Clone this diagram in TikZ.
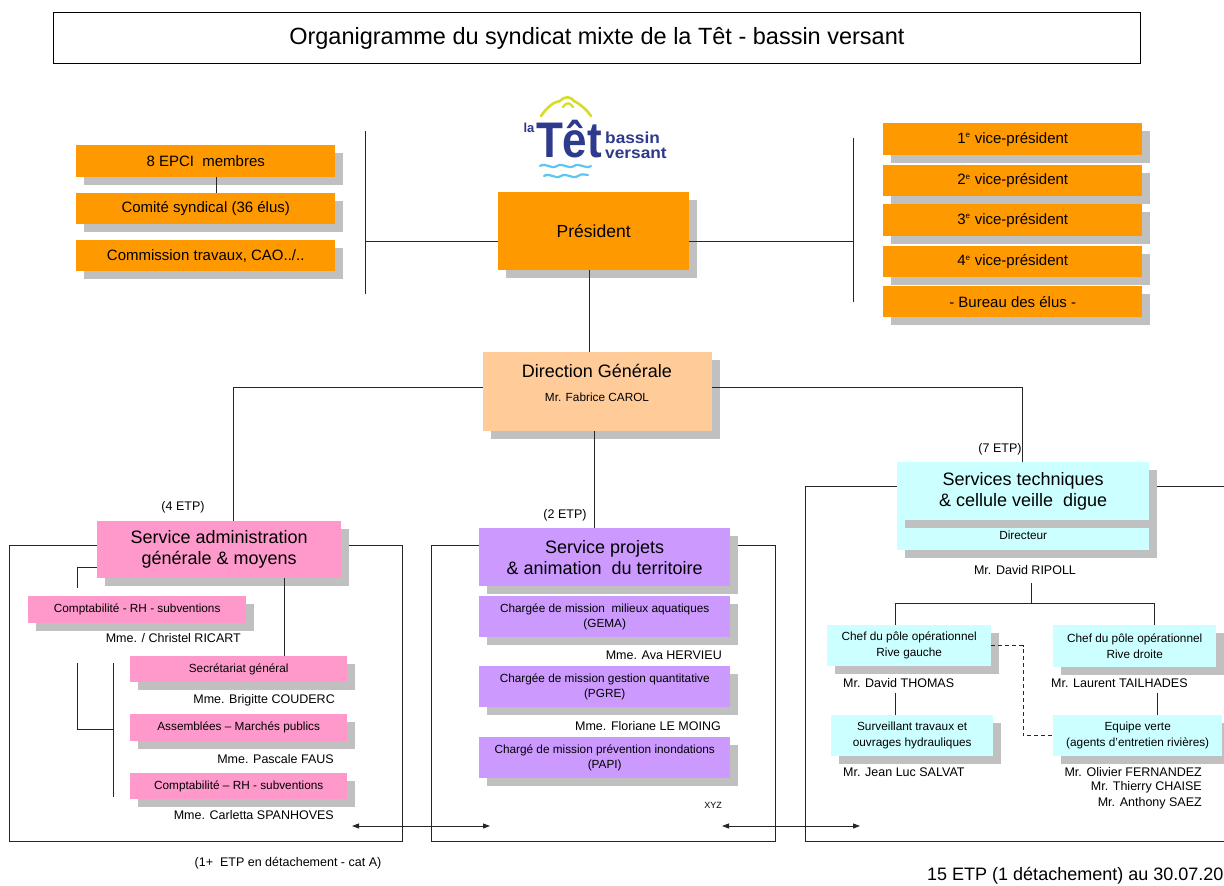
\documentclass[tikz,border=0pt]{standalone}
\usepackage{fontspec}
\setmainfont{Liberation Sans}
\usetikzlibrary{shadows,arrows.meta}
\definecolor{orng}{HTML}{FF9900}
\definecolor{pnk}{HTML}{FF99CC}
\definecolor{prpl}{HTML}{CC99FF}
\definecolor{cyn}{HTML}{CCFFFF}
\definecolor{pch}{HTML}{FFCC99}
\definecolor{shgray}{HTML}{C0C0C0}
\definecolor{navy}{HTML}{2E3A8C}
\definecolor{logoyel}{HTML}{D6DC2C}
\definecolor{logoblue}{HTML}{5CC6F2}
\newcommand\fsz[2]{\fontsize{#1}{#2}\selectfont}
\begin{document}
\begin{tikzpicture}[x=1pt,y=-1pt,
  box/.style={draw=none, inner sep=1pt, align=center, anchor=north west, text=black,
    drop shadow={shadow xshift=8pt,shadow yshift=-8pt,fill=shgray,opacity=1}},
  obox/.style={box, fill=orng, font=\fsz{15}{18}},
  pbox/.style={box, fill=pnk, font=\fsz{11.8}{14.5}},
  vbox/.style={box, fill=prpl, font=\fsz{11.8}{14.5}},
  cbox/.style={box, fill=cyn, font=\fsz{11.8}{16}},
  bigtext/.style={font=\fsz{18}{21}},
  nm/.style={font=\fsz{12.5}{14}, inner sep=0pt},
  small/.style={font=\fsz{12.5}{14}, inner sep=0pt},
  conn/.style={draw=black!85, line width=0.9pt},
  frame/.style={draw=black!85, line width=1pt},
  dbl/.style={conn, {Triangle[length=7pt,width=5pt]}-{Triangle[length=7pt,width=5pt]}}
]
\useasboundingbox (0,0) rectangle (1224,886);
\fill[white] (0,0) rectangle (1224,886);

% title
\node[draw=black, line width=0.8pt, minimum width=1087pt, minimum height=51pt, anchor=north west, inner sep=0pt, font=\fsz{23.5}{26}] (title) at (53,12) {Organigramme du syndicat mixte de la Têt - bassin versant};

% logo
\draw[logoyel, line width=2.6pt, line cap=round] (541,116) .. controls (548,106) and (554,102) .. (560,101)
  .. controls (565,96) and (570,96) .. (574,101) .. controls (580,104) and (586,109) .. (591,116);
\draw[logoyel, line width=2.2pt, line cap=round] (563,107) .. controls (566,102) and (570,102) .. (573,107);
\draw[logoblue, line width=2.2pt, line cap=round] (540,166) .. controls (546,162) and (551,170) .. (557,166)
  .. controls (563,162) and (568,170) .. (574,166) .. controls (580,162) and (585,170) .. (591,166);
\draw[logoblue, line width=2.2pt, line cap=round] (544,176) .. controls (550,172) and (555,180) .. (561,176)
  .. controls (567,172) and (572,180) .. (578,176) .. controls (582,173) and (585,175) .. (588,175);
\node[text=navy, font=\bfseries\fsz{13}{13}, inner sep=0pt] (logola) at (529,128) {la};
\node[text=navy, font=\bfseries\fsz{50}{50}, inner sep=0pt] (logotet) at (569,139) {\scalebox{0.88}[1]{Têt}};
\node[text=navy, font=\bfseries\fsz{16}{15}, inner sep=0pt, anchor=west, align=left] (logobv) at (605,145) {\scalebox{1.08}[1]{bassin}\\\scalebox{1.08}[1]{versant}};

% frames
\draw[frame] (9,545) rectangle (402,841);
\draw[frame] (431,545) rectangle (775,841);
\draw[frame] (805,486) rectangle (1240,841);

% left top
\node[obox, minimum width=259pt, minimum height=32pt] (epci) at (76,145) {8 EPCI\ \ membres};
\node[obox, minimum width=259pt, minimum height=31pt] (comite) at (76,193) {Comité syndical (36 élus)};
\node[obox, minimum width=259pt, minimum height=31pt] (commission) at (76,240) {Commission travaux, CAO../..};

% president
\node[obox, minimum width=191pt, minimum height=78pt, font=\fsz{17.5}{20}] (pres) at (498,192) {Président};

% vice-presidents
\node[obox, minimum width=259pt, minimum height=32pt] (vp1) at (883,123) {1\textsuperscript{\fsz{8}{8}e} vice-président};
\node[obox, minimum width=259pt, minimum height=31pt] (vp2) at (883,165) {2\textsuperscript{\fsz{8}{8}e} vice-président};
\node[obox, minimum width=259pt, minimum height=32pt] (vp3) at (883,204) {3\textsuperscript{\fsz{8}{8}e} vice-président};
\node[obox, minimum width=259pt, minimum height=31pt] (vp4) at (883,246) {4\textsuperscript{\fsz{8}{8}e} vice-président};
\node[obox, minimum width=259pt, minimum height=31pt] (bureau) at (883,286) {- Bureau des élus -};

% direction generale
\node[box, fill=pch, minimum width=229pt, minimum height=79pt] (dg) at (483,352) {};
\node[bigtext, inner sep=0pt] (dgt) at (597,371) {Direction Générale};
\node[nm, font=\fsz{11.8}{13}] (dgn) at (597,397) {Mr. Fabrice CAROL};

% service admin
\node[box, fill=pnk, minimum width=244pt, minimum height=57pt, bigtext] (sadm) at (97,521) {Service administration\\générale \& moyens};
\node[pbox, minimum width=218pt, minimum height=27pt] (c1) at (28,596) {Comptabilité - RH - subventions};
\node[pbox, minimum width=217pt, minimum height=26pt] (secr) at (130,656) {Secrétariat général};
\node[pbox, minimum width=217pt, minimum height=27pt] (assem) at (130,714) {Assemblées -- Marchés publics};
\node[pbox, minimum width=217pt, minimum height=26pt] (c2) at (130,773) {Comptabilité -- RH - subventions};
\node[nm, anchor=east] (n1) at (241,638) {Mme. / Christel RICART};
\node[nm, anchor=east] (n2) at (335,700) {Mme. Brigitte COUDERC};
\node[nm, anchor=east] (n3) at (334,759) {Mme. Pascale FAUS};
\node[nm, anchor=east] (n4) at (334,815) {Mme. Carletta SPANHOVES};

% service projets
\node[box, fill=prpl, minimum width=251pt, minimum height=58pt, bigtext] (sproj) at (479,528) {Service projets\\\&~animation\ \ du territoire};
\node[vbox, minimum width=251pt, minimum height=41pt] (gema) at (479,596) {Chargée de mission\ \ milieux aquatiques\\(GEMA)};
\node[vbox, minimum width=251pt, minimum height=41pt] (pgre) at (479,666) {Chargée de mission gestion quantitative\\(PGRE)};
\node[vbox, minimum width=251pt, minimum height=41pt] (papi) at (479,737) {Chargé de mission prévention inondations\\(PAPI)};
\node[nm, anchor=east] (n5) at (722,655) {Mme. Ava HERVIEU};
\node[nm, anchor=east] (n6) at (721,726) {Mme. Floriane LE MOING};
\node[font=\fsz{9}{10}, inner sep=0pt, anchor=east] (xyz) at (722,805) {XYZ};

% services techniques
\node[cbox, minimum width=252pt, minimum height=30pt] (dir) at (897,520) {Directeur};
\node[box, fill=cyn, minimum width=252pt, minimum height=58pt, bigtext] (stech) at (897,462) {Services techniques\\\&~cellule veille\ \ digue};
\node[nm] (n7) at (1025,570) {Mr. David RIPOLL};
\node[cbox, minimum width=164pt, minimum height=41pt] (rg) at (827,625) {Chef du pôle opérationnel\\Rive gauche};
\node[cbox, minimum width=163pt, minimum height=42pt] (rd) at (1053,625) {Chef du pôle opérationnel\\Rive droite};
\node[cbox, minimum width=162pt, minimum height=41pt] (surv) at (831,715) {Surveillant travaux et\\ouvrages hydrauliques};
\node[cbox, minimum width=169pt, minimum height=41pt] (eq) at (1053,715) {Equipe verte\\(agents d'entretien rivières)};
\node[nm, anchor=west] (n8) at (843,683) {Mr. David THOMAS};
\node[nm, anchor=west] (n9) at (1051,683) {Mr. Laurent TAILHADES};
\node[nm, anchor=west] (n10) at (843,772) {Mr. Jean Luc SALVAT};
\node[nm, anchor=east] (n11) at (1202,772) {Mr. Olivier FERNANDEZ};
\node[nm, anchor=east] (n12) at (1202,787) {Mr. Thierry CHAISE};
\node[nm, anchor=east] (n13) at (1202,803) {Mr. Anthony SAEZ};

% ETP labels
\node[small] (e4) at (183,507) {(4 ETP)};
\node[small] (e2) at (565,515) {(2 ETP)};
\node[small] (e7) at (1000,449) {(7 ETP)};
\node[small] (edet) at (288,863) {(1+\ \ ETP en détachement - cat A)};
\node[font=\fsz{18}{20}, inner sep=0pt, anchor=west] (total) at (927,876) {15 ETP (1 détachement) au 30.07.20};

% connectors top
\coordinate (lt) at (365,131);
\coordinate (lb) at (365,294);
\coordinate (lm) at (365,241);
\coordinate (rt) at (853,138);
\coordinate (rb) at (853,302);
\coordinate (rm) at (853,241);
\draw[conn] (lt) -- (lb);
\draw[conn] (rt) -- (rb);
\draw[conn] (lm) -- (lm -| pres.west);
\draw[conn] (rm) -- (rm -| pres.east);
\draw[conn] ([xshift=11pt]epci.south) -- ([xshift=11pt]comite.north);
\draw[conn] ([xshift=-4pt]pres.south) -- ([xshift=-4pt]pres.south |- dg.north);

% connectors DG
\coordinate (ja) at (233,387);
\coordinate (jc) at (1022,387);
\draw[conn] (ja -| dg.west) -- (ja) -- (ja |- sadm.north);
\draw[conn] (jc -| dg.east) -- (jc) -- (jc |- stech.north);
\draw[conn] ([xshift=-3pt]dg.south) -- ([xshift=-3pt]dg.south |- sproj.north);

% admin internal
\coordinate (a1) at (77,588);
\draw[conn] (a1) |- ([yshift=-18pt]sadm.west);
\coordinate (a2) at (284,0);
\draw[conn] (a2 |- sadm.south) -- (a2 |- secr.north);
\coordinate (b1) at (77,663);
\coordinate (b2) at (113,663);
\coordinate (b3) at (113,797);
\coordinate (bm) at (113,729);
\draw[conn] (b1) |- (bm);
\draw[conn] (b2) -- (b3);

% techniques internal
\coordinate (t0) at (1031,583);
\coordinate (t1) at (1031,603);
\coordinate (tl) at (895,603);
\coordinate (tr) at (1154,603);
\draw[conn] (t0) -- (t1);
\draw[conn] (tl |- rg.north) -- (tl) -- (tr) -- (tr |- rd.north);
\coordinate (s1) at (895,693);
\coordinate (s2) at (1157,693);
\draw[conn] (s1) -- (s1 |- surv.north);
\draw[conn] (s2) -- (s2 |- eq.north);
\coordinate (dd) at (1023,0);
\draw[conn, dashed, dash pattern=on 4pt off 3pt] (rg.east) -- (rg.east -| dd) |- (eq.west);

% arrows
\coordinate (ar1) at (352,826);
\coordinate (ar2) at (490,826);
\coordinate (ar3) at (722,826);
\coordinate (ar4) at (860,826);
\draw[dbl] (ar1) -- (ar2);
\draw[dbl] (ar3) -- (ar4);
\end{tikzpicture}
\end{document}
